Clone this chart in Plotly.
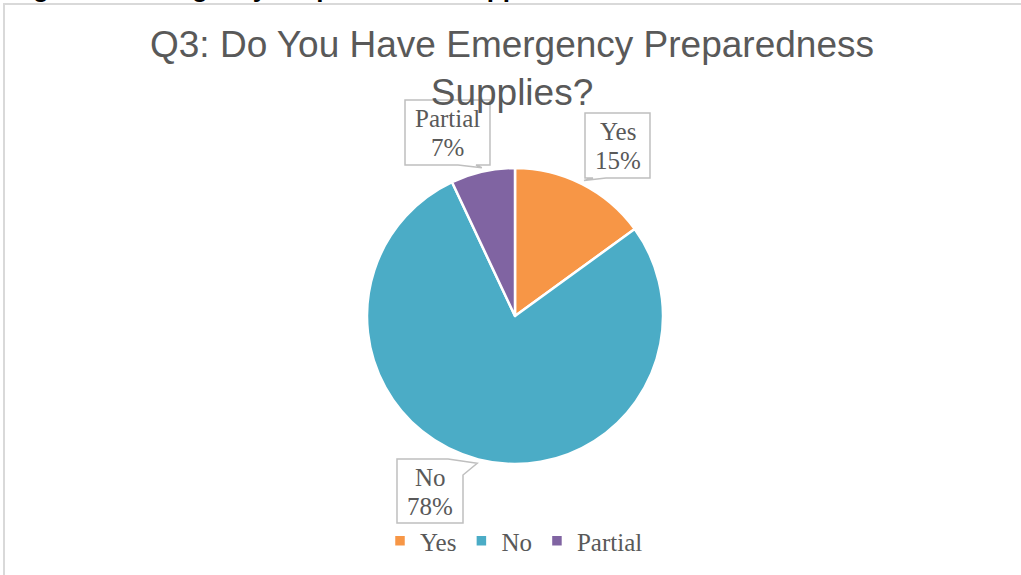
import math
import plotly.graph_objects as go

W, H = 1021, 575

# chart data
labels = ["Yes", "No", "Partial"]
values = [15, 78, 7]
colors = ["#F79646", "#4BACC6", "#8064A2"]

title_text = "Q3: Do You Have Emergency Preparedness<br>Supplies?"
caption_text = "Figure 3: Emergency Preparedness Supplies"


def px(x, y):
    """pixel position -> paper coordinates"""
    return x / W, 1 - y / H


# pie geometry (pixels)
cx, cy, r = 515, 316, 148

fig = go.Figure()

fig.add_trace(go.Pie(
    labels=labels,
    values=values,
    sort=False,
    direction="clockwise",
    rotation=0,
    marker=dict(colors=colors, line=dict(color="white", width=2.5)),
    textinfo="none",
    hoverinfo="label+percent",
    domain=dict(x=[(cx - r) / W, (cx + r) / W], y=[1 - (cy + r) / H, 1 - (cy - r) / H]),
))

# callout boxes: polygon outline (pixels); "TIP" is replaced by the slice pointer
callouts = {
    "Partial": [(405, 100), (490, 100), (490, 165), (476, 165), "TIP", (458, 165), (405, 165)],
    "Yes": [(585, 113), (650, 113), (650, 178), (606, 178), "TIP", (593, 178), (585, 178)],
    "No": [(397, 459), (448, 459), "TIP", (463, 475), (463, 523), (397, 523)],
}

total = sum(values)
cum = 0
for lab, val in zip(labels, values):
    mid = (cum + val / 2) / total * 2 * math.pi
    cum += val
    tip = (cx + (r + 4) * math.sin(mid), cy - (r + 4) * math.cos(mid))
    pts = [tip if p == "TIP" else p for p in callouts[lab]]
    path = ""
    for i, (x, y) in enumerate(pts):
        xp, yp = px(x, y)
        path += ("M" if i == 0 else "L") + f"{xp:.5f},{yp:.5f} "
    path += "Z"
    fig.add_shape(type="path", path=path, xref="paper", yref="paper",
                  fillcolor="white", line=dict(color="#BFBFBF", width=1.5))
    bx = [p for p in callouts[lab] if p != "TIP"]
    x0, x1 = min(p[0] for p in bx), max(p[0] for p in bx)
    y0, y1 = min(p[1] for p in bx), max(p[1] for p in bx)
    mx, my = (x0 + x1) / 2, (y0 + y1) / 2
    for line_text, dy in [(lab, -14), (f"{round(val / total * 100)}%", 15)]:
        ax, ay = px(mx, my + dy)
        fig.add_annotation(
            x=ax, y=ay, xref="paper", yref="paper",
            text=line_text,
            showarrow=False,
            font=dict(size=25, color="#595959", family="Liberation Serif"),
            xanchor="center", yanchor="middle",
        )

# title
tx, ty = px(512, 68)
fig.add_annotation(
    x=tx, y=ty, xref="paper", yref="paper",
    text=title_text, showarrow=False,
    font=dict(size=37, color="#595959", family="Liberation Sans, Arial"),
    xanchor="center", yanchor="middle",
)

# clipped caption at the very top of the frame
fx, fy = px(8, 5)
fig.add_annotation(
    x=fx, y=fy, xref="paper", yref="paper",
    text=f"<b>{caption_text}</b>", showarrow=False,
    font=dict(size=26, color="black", family="Liberation Sans, Arial"),
    xanchor="left", yanchor="bottom",
)

# chart frame
fx0, fy1 = px(4, 4)
fig.add_shape(type="rect", xref="paper", yref="paper",
              x0=fx0, x1=1.02, y0=-0.02, y1=fy1,
              line=dict(color="#D9D9D9", width=2), fillcolor="rgba(0,0,0,0)")

lx, ly = px(514, 541)
fig.update_layout(
    width=W, height=H,
    margin=dict(l=0, r=0, t=0, b=0),
    paper_bgcolor="white",
    plot_bgcolor="white",
    showlegend=True,
    legend=dict(
        orientation="h", x=lx, xanchor="center", y=ly, yanchor="middle",
        font=dict(size=25, color="#595959", family="Liberation Serif"),
        itemwidth=30, bgcolor="rgba(0,0,0,0)",
    ),
)

fig.write_html("out.html", config={"displayModeBar": False},
               post_script="document.body.style.margin='0';")
